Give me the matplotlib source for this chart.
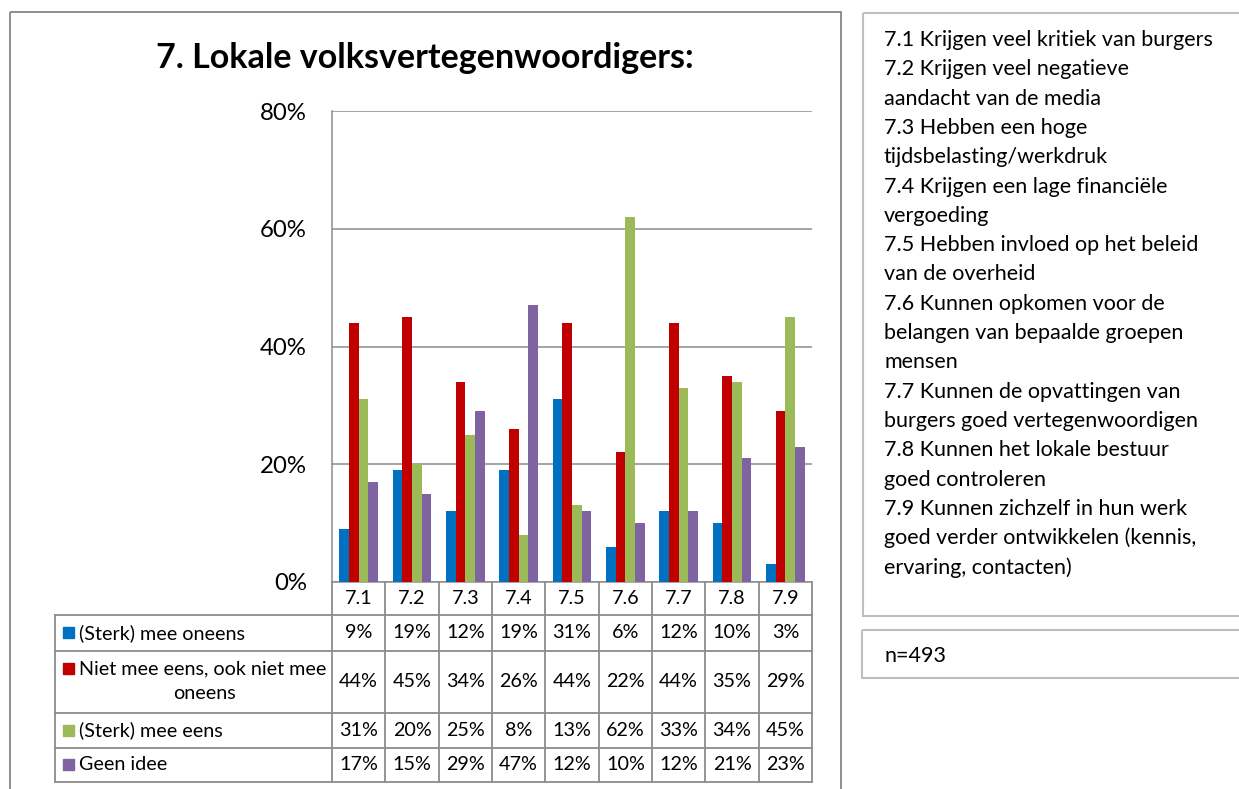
import matplotlib
matplotlib.use("Agg")
import matplotlib.pyplot as plt
from matplotlib.patches import Rectangle

plt.rcParams['font.family'] = ['Lato', 'DejaVu Sans']

# survey results (percent), one value per statement
cats = ['7.1', '7.2', '7.3', '7.4', '7.5', '7.6', '7.7', '7.8', '7.9']
oneens = [9, 19, 12, 19, 31, 6, 12, 10, 3]
neutraal = [44, 45, 34, 26, 44, 22, 44, 35, 29]
eens = [31, 20, 25, 8, 13, 62, 33, 34, 45]
geen_idee = [17, 15, 29, 47, 12, 10, 12, 21, 23]

series = [oneens, neutraal, eens, geen_idee]
names = ['(Sterk) mee oneens', 'Niet mee eens, ook niet mee\noneens',
         '(Sterk) mee eens', 'Geen idee']
colors = ['#0070C0', '#C00000', '#9BBB59', '#8064A2']

yticks = [0, 20, 40, 60, 80]

title = '7. Lokale volksvertegenwoordigers:'
notes = ['7.1 Krijgen veel kritiek van burgers',
         '7.2 Krijgen veel negatieve', 'aandacht van de media',
         '7.3 Hebben een hoge', 'tijdsbelasting/werkdruk',
         '7.4 Krijgen een lage financiële', 'vergoeding',
         '7.5 Hebben invloed op het beleid', 'van de overheid',
         '7.6 Kunnen opkomen voor de', 'belangen van bepaalde groepen', 'mensen',
         '7.7 Kunnen de opvattingen van', 'burgers goed vertegenwoordigen',
         '7.8 Kunnen het lokale bestuur', 'goed controleren',
         '7.9 Kunnen zichzelf in hun werk', 'goed verder ontwikkelen (kennis,',
         'ervaring, contacten)']
n_text = 'n=493'

W, H = 1239, 789
L, R, T, B = 332, 812, 111, 582
grid_c = '#8C8C8C'
fs_tab = 14.2
fs_note = 15.5

fig = plt.figure(figsize=(W / 100, H / 100), dpi=100)

# pixel-space layer for frames, table and text boxes
bg = fig.add_axes([0, 0, 1, 1])
bg.set_xlim(0, W)
bg.set_ylim(H, 0)
bg.axis('off')

ax = fig.add_axes([L / W, 1 - B / H, (R - L) / W, (B - T) / H])
ax.set_facecolor('none')
n = len(cats)
w = 0.182
for k, (vals, c) in enumerate(zip(series, colors)):
    xs = [i + (k - 1.5) * w for i in range(n)]
    ax.bar(xs, vals, width=w, color=c, zorder=3)
ax.set_xlim(-0.5, n - 0.5)
ax.set_ylim(0, 80)
ax.set_yticks(yticks)
ax.set_yticklabels(['%d%%' % v for v in yticks], fontsize=17.3)
ax.set_xticks([])
ax.tick_params(axis='y', length=0, pad=18)
ax.grid(axis='y', color=grid_c, linewidth=1.1, zorder=0)
for s in ['top', 'right']:
    ax.spines[s].set_visible(False)
for s in ['left', 'bottom']:
    ax.spines[s].set_color(grid_c)
    ax.spines[s].set_linewidth(1.1)

# outer chart frame
bg.add_patch(Rectangle((10, 12), 831, 800, fill=False, edgecolor='#878787', lw=1.3))
bg.text(425, 58, title, fontsize=24.5, fontweight='bold', ha='center', va='center')

# data table under the plot
col_w = (R - L) / n
rows = [615, 650.5, 712.5, 747.5, 782]
tl = 55
for y in rows:
    bg.plot([tl, R], [y, y], color=grid_c, lw=1.3)
bg.plot([tl, tl], [rows[0], rows[-1]], color=grid_c, lw=1.3)
for i in range(n + 1):
    x = L + i * col_w
    bg.plot([x, x], [B, rows[-1]], color=grid_c, lw=1.3)
for i, c in enumerate(cats):
    bg.text(L + (i + 0.5) * col_w, (B + rows[0]) / 2, c, fontsize=fs_tab,
            ha='center', va='center')
for r, (vals, name, c) in enumerate(zip(series, names, colors)):
    y0, y1 = rows[r], rows[r + 1]
    yc = (y0 + y1) / 2
    for i, v in enumerate(vals):
        bg.text(L + (i + 0.5) * col_w, yc, '%d%%' % v, fontsize=fs_tab,
                ha='center', va='center')
    parts = name.split('\n')
    if len(parts) == 1:
        ky = yc
        bg.text(79, yc, parts[0], fontsize=fs_tab, ha='left', va='center')
    else:
        ky = yc - 13
        bg.text(79, yc - 13, parts[0], fontsize=fs_tab, ha='left', va='center')
        bg.text(205, yc + 12, parts[1], fontsize=fs_tab, ha='center', va='center')
    bg.add_patch(Rectangle((63, ky - 5.5), 11, 11, color=c))

# statement descriptions
bg.add_patch(Rectangle((863, 13), 400, 602.5, fill=False, edgecolor='#BFBFBF', lw=1.5))
for j, line in enumerate(notes):
    bg.text(884, 40 + j * 29.3, line, fontsize=fs_note, ha='left', va='center')

bg.add_patch(Rectangle((862, 630), 400, 48, fill=False, edgecolor='#BFBFBF', lw=1.5))
bg.text(884, 656, n_text, fontsize=fs_note, ha='left', va='center')

fig.savefig('out.png', dpi=100)
